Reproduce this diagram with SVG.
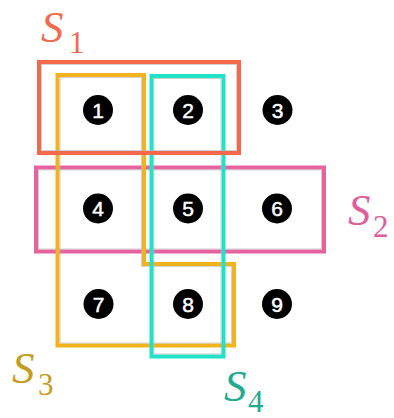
<svg xmlns="http://www.w3.org/2000/svg" width="394" height="418" viewBox="0 0 394 418">
<style>
.set{fill:none;stroke-width:4;stroke-linejoin:miter}
.sh{fill:none;stroke:#b8b8b8;stroke-width:0.8;opacity:0.8}
.dot{fill:#000}
.num{fill:#fff;stroke:#fff;stroke-width:0.5;font-family:"Liberation Sans",Arial,sans-serif;font-size:21px;text-anchor:middle}
.lab{font-family:"Liberation Serif","Times New Roman",serif;font-style:italic;font-size:45px}
.sub{font-family:"Liberation Serif","Times New Roman",serif;font-size:31px}
</style>
<rect width="394" height="418" fill="#fff"/>
<g id="S2">
<rect class="set" x="36" y="167.5" width="288" height="84" stroke="#e8629f"/>
<rect class="sh" x="38.5" y="170" width="283" height="79"/>
</g>
<g id="S3">
<path class="set" d="M57.5 75H144V264H234V345.5H57.5Z" stroke="#f2b31c"/>
<path class="sh" d="M60 77.5H141.5V266.5H231.5V343H60Z"/>
</g>
<g id="S4">
<rect class="set" x="151.5" y="76" width="72" height="280.5" stroke="#1ee3c9"/>
<rect class="sh" x="154" y="78.5" width="67" height="275.5"/>
</g>
<g id="S1">
<rect class="set" x="39" y="62" width="200" height="91" stroke="#f4684c"/>
<rect class="sh" x="41.5" y="64.5" width="195" height="86"/>
</g>
<g id="n1"><circle class="dot" cx="98" cy="110" r="15"/><text class="num" x="98" y="117.5">1</text></g>
<g id="n2"><circle class="dot" cx="188" cy="110" r="15"/><text class="num" x="188" y="117.5">2</text></g>
<g id="n3"><circle class="dot" cx="277.5" cy="110" r="15"/><text class="num" x="277.5" y="117.5">3</text></g>
<g id="n4"><circle class="dot" cx="98" cy="208.5" r="15"/><text class="num" x="98" y="216">4</text></g>
<g id="n5"><circle class="dot" cx="188" cy="208.5" r="15"/><text class="num" x="188" y="216">5</text></g>
<g id="n6"><circle class="dot" cx="277" cy="208.5" r="15"/><text class="num" x="277" y="216">6</text></g>
<g id="n7"><circle class="dot" cx="98.5" cy="304" r="15"/><text class="num" x="98.5" y="311.5">7</text></g>
<g id="n8"><circle class="dot" cx="188" cy="304" r="15"/><text class="num" x="188" y="311.5">8</text></g>
<g id="n9"><circle class="dot" cx="277" cy="304" r="15"/><text class="num" x="277" y="311.5">9</text></g>
<g id="connectors"/>
<g id="labels">
<text x="41" y="42" fill="#f26a50"><tspan class="lab">S</tspan><tspan class="sub" x="69" y="53">1</tspan></text>
<text x="348" y="225" fill="#e05d9d"><tspan class="lab">S</tspan><tspan class="sub" x="373" y="237">2</tspan></text>
<text x="12" y="383" fill="#c59c20"><tspan class="lab">S</tspan><tspan class="sub" x="38" y="395">3</tspan></text>
<text x="224" y="401" fill="#22aa92"><tspan class="lab">S</tspan><tspan class="sub" x="248" y="412">4</tspan></text>
</g>
</svg>
